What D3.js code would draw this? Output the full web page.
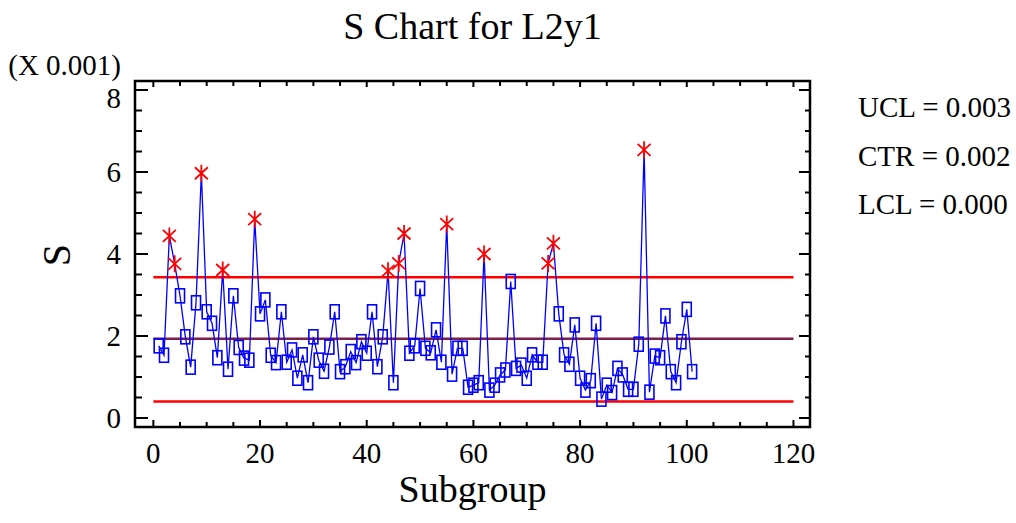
<!DOCTYPE html>
<html>
<head>
<meta charset="utf-8">
<script src="https://cdn.jsdelivr.net/npm/d3@7"></script>
<style>
  html, body { margin: 0; padding: 0; background: #fff; }
  svg { display: block; font-family: "Liberation Serif", "Times New Roman", serif; }
</style>
</head>
<body>
<svg id="chart" width="1016" height="523"></svg>
<script>
// Subgroup standard deviations, in units of 0.001
const subgroups = d3.range(1, 102);
const sValues = [
  1.76, 1.53, 4.44, 3.76, 2.98, 1.98, 1.24, 2.81, 5.97, 2.59,
  2.31, 1.47, 3.61, 1.19, 2.98, 1.72, 1.46, 1.41, 4.85, 2.54,
  2.88, 1.53, 1.35, 2.59, 1.36, 1.66, 0.97, 1.54, 0.86, 1.98,
  1.41, 1.14, 1.73, 2.59, 1.13, 1.25, 1.62, 1.35, 1.86, 1.58,
  2.59, 1.25, 1.98, 3.59, 0.86, 3.77, 4.50, 1.58, 1.76, 3.16,
  1.70, 1.59, 2.15, 1.36, 4.73, 1.07, 1.70, 1.70, 0.75, 0.80,
  0.86, 4.00, 0.68, 0.80, 1.05, 1.17, 3.33, 1.21, 1.29, 0.97,
  1.54, 1.36, 1.36, 3.77, 4.26, 2.54, 1.54, 1.31, 2.27, 0.97,
  0.68, 0.91, 2.31, 0.46, 0.80, 0.62, 1.21, 1.05, 0.70, 0.70,
  1.80, 6.54, 0.63, 1.51, 1.47, 2.49, 1.13, 0.86, 1.86, 2.65,
  1.13
];

// Control limits (x 0.001)
const limitNames = ["UCL", "CTR", "LCL"];
const limitValues = [3.43, 1.93, 0.40];
const limitLabels = ["UCL = 0.003", "CTR = 0.002", "LCL = 0.000"];

const xTicks = [0, 20, 40, 60, 80, 100, 120];
const yTicks = [0, 2, 4, 6, 8];

const svg = d3.select("#chart");
const frame = { left: 135, right: 810, top: 81, bottom: 427 };

const x = d3.scaleLinear().domain([-3.44, 123.1]).range([frame.left, frame.right]);
const y = d3.scaleLinear().domain([-0.22, 8.22]).range([frame.bottom, frame.top]);

const ucl = limitValues[0];

// Title
svg.append("text")
  .attr("x", (frame.left + frame.right) / 2)
  .attr("y", 39)
  .attr("text-anchor", "middle")
  .attr("font-size", 38)
  .text("S Chart for L2y1");

// Control limit lines
const limitColors = ["#ff0000", "#7b1f48", "#ff0000"];
svg.append("g").selectAll("line")
  .data(limitValues)
  .join("line")
  .attr("x1", x(0)).attr("x2", x(120))
  .attr("y1", d => y(d)).attr("y2", d => y(d))
  .attr("stroke", (d, i) => limitColors[i])
  .attr("stroke-width", 2.5);

// Data line
const pts = subgroups.map((s, i) => ({ s, v: sValues[i] }));
svg.append("path")
  .datum(pts)
  .attr("fill", "none")
  .attr("stroke", "#0000ff")
  .attr("stroke-width", 1.3)
  .attr("d", d3.line().x(d => x(d.s)).y(d => y(d.v)));

// In-control points: hollow squares
svg.append("g").selectAll("rect")
  .data(pts.filter(d => d.v <= ucl))
  .join("rect")
  .attr("x", d => x(d.s) - 4.5)
  .attr("y", d => y(d.v) - 7)
  .attr("width", 9)
  .attr("height", 14)
  .attr("fill", "none")
  .attr("stroke", "#0000ff")
  .attr("stroke-width", 1.6);

// Out-of-control points: red asterisks
svg.append("g").selectAll("path")
  .data(pts.filter(d => d.v > ucl))
  .join("path")
  .attr("transform", d => `translate(${x(d.s)},${y(d.v)})`)
  .attr("d", "M0,-8.5L0,8.5M-6.5,-6L6.5,6M-6.5,6L6.5,-6")
  .attr("stroke", "#ff0000")
  .attr("stroke-width", 1.8)
  .attr("fill", "none");

// Frame
svg.append("rect")
  .attr("x", frame.left).attr("y", frame.top)
  .attr("width", frame.right - frame.left)
  .attr("height", frame.bottom - frame.top)
  .attr("fill", "none")
  .attr("stroke", "#000")
  .attr("stroke-width", 2.5);

// Ticks on all four sides, pointing inward
const tg = svg.append("g").attr("stroke", "#000").attr("stroke-width", 2);
const yMinor = d3.range(0, 8.01, 0.5);
const xMinor = d3.range(0, 120.1, 5);
yMinor.forEach(v => {
  const major = Math.abs(v % 2) < 1e-9;
  tg.append("line").attr("x1", frame.left).attr("x2", frame.left + (major ? 13 : 7))
    .attr("y1", y(v)).attr("y2", y(v));
  tg.append("line").attr("x1", frame.right).attr("x2", frame.right - (major ? 11 : 5))
    .attr("y1", y(v)).attr("y2", y(v));
});
xMinor.forEach(v => {
  const major = v % 20 === 0;
  tg.append("line").attr("x1", x(v)).attr("x2", x(v))
    .attr("y1", frame.bottom).attr("y2", frame.bottom - (major ? 7 : 5));
  tg.append("line").attr("x1", x(v)).attr("x2", x(v))
    .attr("y1", frame.top).attr("y2", frame.top + (major ? 6 : 5));
});

// Y tick labels
svg.append("g").selectAll("text")
  .data(yTicks)
  .join("text")
  .attr("x", 121)
  .attr("y", d => y(d) + (d === 8 ? 8 : 0))
  .attr("dy", "0.35em")
  .attr("text-anchor", "end")
  .attr("font-size", 29)
  .text(d => d);

// X tick labels
svg.append("g").selectAll("text")
  .data(xTicks)
  .join("text")
  .attr("x", d => x(d))
  .attr("y", 463)
  .attr("text-anchor", "middle")
  .attr("font-size", 29)
  .text(d => d);

// Scale multiplier
svg.append("text")
  .attr("x", 121).attr("y", 75)
  .attr("text-anchor", "end")
  .attr("font-size", 29)
  .text("(X 0.001)");

// Axis titles
svg.append("text")
  .attr("transform", "translate(70,255) rotate(-90)")
  .attr("text-anchor", "middle")
  .attr("font-size", 40)
  .text("S");

svg.append("text")
  .attr("x", (frame.left + frame.right) / 2)
  .attr("y", 502)
  .attr("text-anchor", "middle")
  .attr("font-size", 38)
  .text("Subgroup");

// Limit legend
svg.append("g").selectAll("text")
  .data(limitLabels)
  .join("text")
  .attr("x", 858)
  .attr("y", (d, i) => 117 + i * 48.5)
  .attr("font-size", 29)
  .text(d => d);
</script>
</body>
</html>
